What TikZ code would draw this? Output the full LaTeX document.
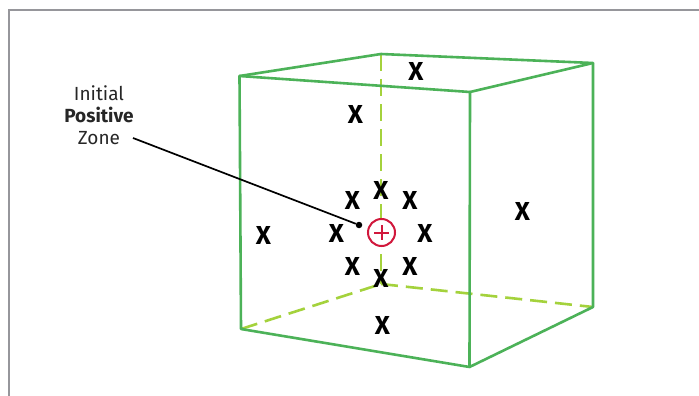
\documentclass[tikz,border=0pt]{standalone}
\usepackage{fontspec}
\setmainfont{Fira Sans}
\definecolor{cubegreen}{RGB}{76,178,88}
\definecolor{limegreen}{RGB}{164,210,60}
\definecolor{plusred}{RGB}{209,24,60}
\definecolor{framegray}{RGB}{150,150,155}
\tikzset{
  edge/.style={draw=cubegreen,line width=2.6pt,line join=round},
  hidden/.style={draw=limegreen,line width=2.6pt,dash pattern=on 17pt off 8pt},
  xmark/.style={inner sep=0pt,font=\fontsize{26}{26}\selectfont\bfseries,text=black},
  lab/.style={align=center,font=\fontsize{19}{22}\selectfont,text=black!85,inner sep=0pt}
}
\begin{document}
\begin{tikzpicture}[x=1pt,y=-1pt]
\useasboundingbox (0,0) rectangle (699,396);
\fill[white] (0,0) rectangle (699,396);
\draw[framegray,line width=1.2pt] (9,396) -- (9,10) -- (699,10);
% cube corners
\coordinate (ftl) at (239.5,76);
\coordinate (ftr) at (470,92);
\coordinate (fbr) at (469.5,367);
\coordinate (fbl) at (241,329);
\coordinate (btl) at (381,54);
\coordinate (btr) at (593,63);
\coordinate (bbr) at (593,307);
\coordinate (bbl) at (381,284);
% hidden edges
\draw[hidden] (btl) -- (bbl);
\draw[hidden] (fbl) -- (bbl);
\draw[hidden] (bbl) -- (bbr);
% visible edges
\draw[edge] (ftl) -- (ftr) -- (fbr) -- (fbl) -- cycle;
\draw[edge] (ftl) -- (btl) -- (btr) -- (ftr);
\draw[edge] (btr) -- (bbr) -- (fbr);
% X marks
\foreach \n/\x/\y in {a/416/71.5,b/355.5/114.5,c/522.5/211.5,d/263.5/235.5,e/352.5/200.5,f/381/190.5,g/410/200.5,h/336.5/233.5,i/425/233.5,j/352.5/266.5,k/381/278.5,l/410/266.5,m/382.5/325.5}
  \node[xmark] (\n) at (\x,\y) {X};
% positive charge
\node[circle,draw=plusred,line width=2pt,minimum size=27pt,inner sep=0pt,fill=white] (plus) at (381.5,232.5) {};
\draw[plusred,line width=2pt] (374,232.5) -- (389,232.5) (381.5,225) -- (381.5,240);
% label
\node[lab] (label) at (99,115) {Initial\\\textbf{Positive}\\Zone};
\coordinate (start) at (133,138);
\node[circle,fill=black,inner sep=0pt,minimum size=6.5pt] (dot) at (359,225) {};
\draw[black,line width=1.7pt] (start) -- (dot);
\end{tikzpicture}
\end{document}
